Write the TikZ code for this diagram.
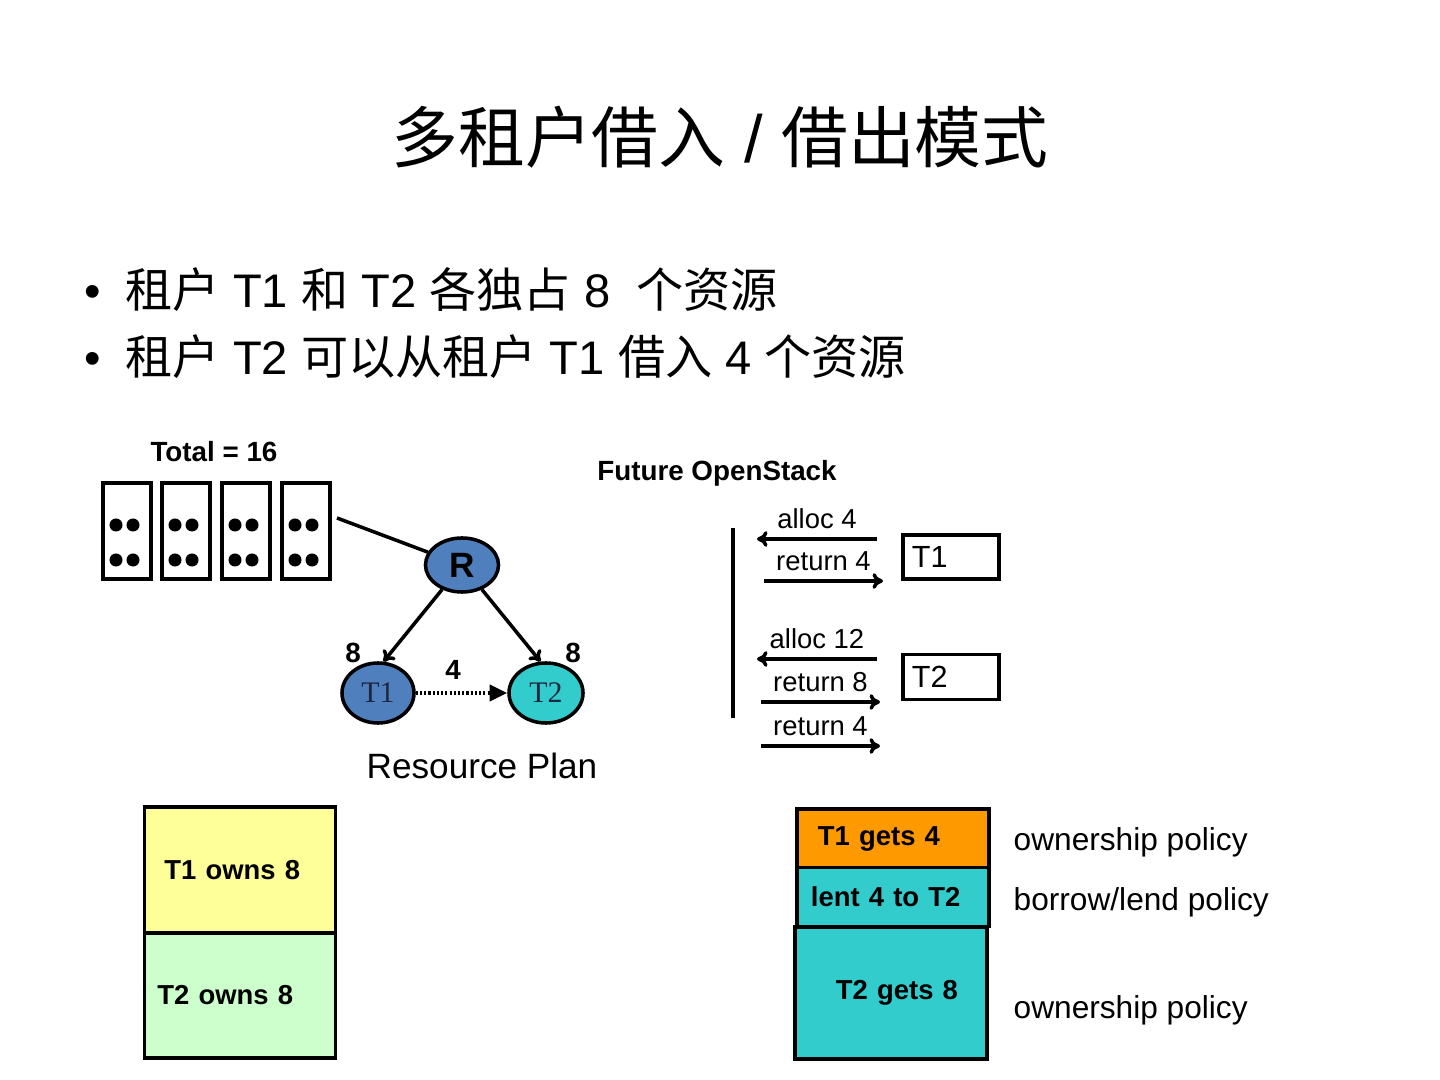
\documentclass[tikz,border=0pt]{standalone}
\usepackage{fontspec}
\setmainfont{Liberation Sans}
\newfontfamily\cjk{Noto Sans CJK SC}
\newfontfamily\timesfont{Liberation Serif}
\usetikzlibrary{shapes.geometric,arrows.meta}
\definecolor{tenantblue}{RGB}{79,127,189}
\definecolor{tenantcyan}{RGB}{51,204,204}
\definecolor{getsorange}{RGB}{255,153,0}
\definecolor{ownyellow}{RGB}{255,255,153}
\definecolor{owngreen}{RGB}{204,255,204}
\definecolor{nodetext}{RGB}{28,40,66}
\newcommand{\zh}[1]{{\cjk #1}}
\newcommand{\fs}[1]{\fontsize{#1}{#1}\selectfont}

\begin{document}
\begin{tikzpicture}[x=0.01cm, y=-0.01cm, >={To[length=3pt,width=4.5pt]},
    txt/.style={inner sep=0pt, font=\fs{7.8}},
    bold/.style={inner sep=0pt, font=\fs{7.9}\bfseries},
    rack/.style={draw, line width=1pt, minimum width=0.48cm, minimum height=0.96cm, inner sep=0pt},
    tenant/.style={ellipse, draw, line width=1pt, inner sep=0pt, minimum width=0.72cm,
      minimum height=0.6cm, font=\timesfont\fs{8.5}, text=nodetext},
    share/.style={draw, line width=1.1pt, font=\fs{7.8}\bfseries, align=left, inner ysep=0pt},
    tbox/.style={draw, line width=1pt, minimum height=0.36cm, text width=0.78cm,
      inner xsep=0.09cm, align=left, font=\fs{8.7}},
    flow/.style={line width=1pt}]
    \useasboundingbox (0,0) rectangle (1440,1080);

    \node[txt, font=\fs{19}] (title) at (720,137) {\zh{多租户借入} / \zh{借出模式}};
    \node[txt, font=\fs{13.4}, anchor=west] (bul1) at (84,290)
        {•\hspace{7pt}\zh{租户} T1 \zh{和} T2 \zh{各独占} 8\ \ \zh{个资源}};
    \node[txt, font=\fs{13.4}, anchor=west] (bul2) at (84,357)
        {•\hspace{7pt}\zh{租户} T2 \zh{可以从租户} T1 \zh{借入} 4 \zh{个资源}};

    % resource plan
    \node[bold] (total) at (214,452) {Total = 16};
    \foreach \i/\x in {1/127,2/186,3/246,4/306} {
        \node[rack] (rack\i) at (\x,531) {};
        \foreach \dx in {-11,6}
            \foreach \dy in {525,560}
                \fill (\x+\dx,\dy) circle[radius=0.065cm];
    }
    \node[tenant, fill=tenantblue, font=\fs{10}\bfseries, text=black,
        minimum width=0.73cm, minimum height=0.54cm] (R) at (462,565) {R};
    \node[tenant, fill=tenantblue] (T1) at (378,693) {T1};
    \node[tenant, fill=tenantcyan, minimum width=0.74cm] (T2) at (546,693) {T2};
    \coordinate (link) at (337,518);
    \draw[line width=1pt] (link) -- (R);
    \draw[->, line width=1pt] (R) -- (T1.80);
    \draw[->, line width=1pt] (R) -- (T2.100);
    \draw[-{Triangle[length=5pt,width=4.5pt]}, line width=1.2pt,
        dash pattern=on 0.6pt off 0.6pt] (T1) -- (T2);
    \node[bold] (w1) at (353,653) {8};
    \node[bold] (w2) at (573,653) {8};
    \node[bold] (lend) at (453,670) {4};
    \node[txt, font=\fs{10}] (plan) at (482,766) {Resource Plan};

    % future openstack
    \node[bold] (fo) at (717,473) {Future OpenStack};
    \draw[line width=1.4pt] (733,528) -- (733,718);
    \foreach \k/\y/\txt in {1/539/alloc 4, 3/659/alloc 12} {
        \coordinate (fl\k) at (757,\y);
        \coordinate (fr\k) at (877,\y);
        \draw[flow, <-] (fl\k) -- node[txt, above=0.08cm] {\txt} (fr\k);
    }
    \foreach \k/\y/\xl/\txt in {2/581/764/return 4, 4/702/761/return 8, 5/746/761/return 4} {
        \coordinate (fl\k) at (\xl,\y);
        \coordinate (fr\k) at (\xl+119,\y);
        \draw[flow, ->] (fl\k) -- node[txt, above=0.08cm] {\txt} (fr\k);
    }
    \node[tbox] (t1box) at (951,557) {T1};
    \node[tbox] (t2box) at (951,677) {T2};

    % shares
    \node[share, fill=ownyellow, minimum height=1.26cm, text width=1.51cm, inner xsep=0.2cm]
        (own1) at (240,870) {T1 owns 8};
    \node[share, fill=owngreen, minimum height=1.25cm, text width=1.65cm, inner xsep=0.13cm]
        (own2) at (240,995.5) {T2 owns 8};
    \node[share, fill=getsorange, minimum height=0.6cm, text width=1.5cm, inner xsep=0.21cm]
        (gets1) at (893,839) {T1 gets 4};
    \node[share, fill=tenantcyan, minimum height=0.59cm, text width=1.64cm, inner xsep=0.14cm]
        (lent) at (893,897) {lent 4 to T2};
    \node[share, fill=tenantcyan, minimum height=1.32cm, text width=1.6cm, inner xsep=0.16cm]
        (gets2) at (891,993) {\hspace*{0.25cm}T2 gets 8};
    \node[txt, font=\fs{9}, anchor=west] (pol1) at (1013,842) {ownership policy};
    \node[txt, font=\fs{9}, anchor=west] (pol2) at (1013,902) {borrow/lend policy};
    \node[txt, font=\fs{9}, anchor=west] (pol3) at (1013,1010) {ownership policy};
\end{tikzpicture}
\end{document}
